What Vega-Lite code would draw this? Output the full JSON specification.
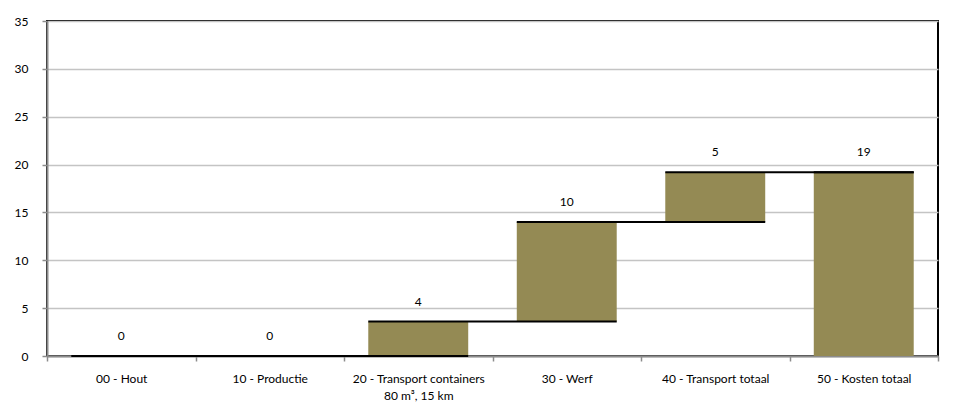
{
  "$schema": "https://vega.github.io/schema/vega-lite/v6.json",
  "width": 891,
  "height": 335,
  "autosize": {"type": "none"},
  "padding": {"left": 47, "top": 21, "right": 21, "bottom": 60},
  "background": "white",
  "config": {
    "font": "Lato",
    "view": {"stroke": "black", "strokeWidth": 2},
    "axis": {"labelFont": "Lato", "labelFontSize": 12, "labelColor": "#000000", "zindex": 1}
  },
  "data": {
    "values": [
      {"cat": "00 - Hout", "start": 0, "end": 0, "label": "0", "next": "10 - Productie"},
      {"cat": "10 - Productie", "start": 0, "end": 0, "label": "0", "next": "20 - Transport containers|80 m³, 15 km"},
      {"cat": "20 - Transport containers|80 m³, 15 km", "start": 0, "end": 3.6, "label": "4", "next": "30 - Werf"},
      {"cat": "30 - Werf", "start": 3.6, "end": 14.0, "label": "10", "next": "40 - Transport totaal"},
      {"cat": "40 - Transport totaal", "start": 14.0, "end": 19.2, "label": "5", "next": "50 - Kosten totaal"},
      {"cat": "50 - Kosten totaal", "start": 0, "end": 19.2, "label": "19", "next": "50 - Kosten totaal"}
    ]
  },
  "encoding": {
    "x": {
      "field": "cat",
      "type": "nominal",
      "sort": null,
      "scale": {"paddingInner": 0, "paddingOuter": 0},
      "axis": {
        "title": null,
        "labelAngle": 0,
        "labelExpr": "split(datum.label, '|')",
        "labelLineHeight": 17,
        "labelPadding": 12,
        "labelBaseline": "top",
        "tickBand": "extent",
        "tickSize": 5,
        "tickColor": "#8c8c8c",
        "tickWidth": 1.5,
        "domainColor": "#8c8c8c",
        "domainWidth": 2,
        "grid": false
      }
    }
  },
  "layer": [
    {
      "mark": {"type": "bar", "color": "#948A54", "width": {"band": 0.673}},
      "encoding": {
        "y": {
          "field": "start",
          "type": "quantitative",
          "scale": {"domain": [0, 35], "nice": false},
          "axis": {
            "title": null,
            "values": [0, 5, 10, 15, 20, 25, 30, 35],
            "tickSize": 5,
            "tickColor": "#8c8c8c",
            "tickWidth": 1.5,
            "labelPadding": 14,
            "domainColor": "#8c8c8c",
            "domainWidth": 2,
            "gridColor": "#c4c4c4",
            "gridWidth": 1.5,
            "gridOpacity": 1
          }
        },
        "y2": {"field": "end"}
      }
    },
    {
      "mark": {"type": "rule", "color": "black", "strokeWidth": 2},
      "encoding": {
        "x": {"field": "cat", "type": "nominal", "sort": null, "bandPosition": 0.1635},
        "x2": {"field": "next", "bandPosition": 0.8365},
        "y": {"field": "end", "type": "quantitative"}
      }
    },
    {
      "mark": {"type": "text", "dy": -20, "fontSize": 12, "color": "#000000", "baseline": "middle"},
      "encoding": {
        "y": {"field": "end", "type": "quantitative"},
        "text": {"field": "label"}
      }
    }
  ]
}
